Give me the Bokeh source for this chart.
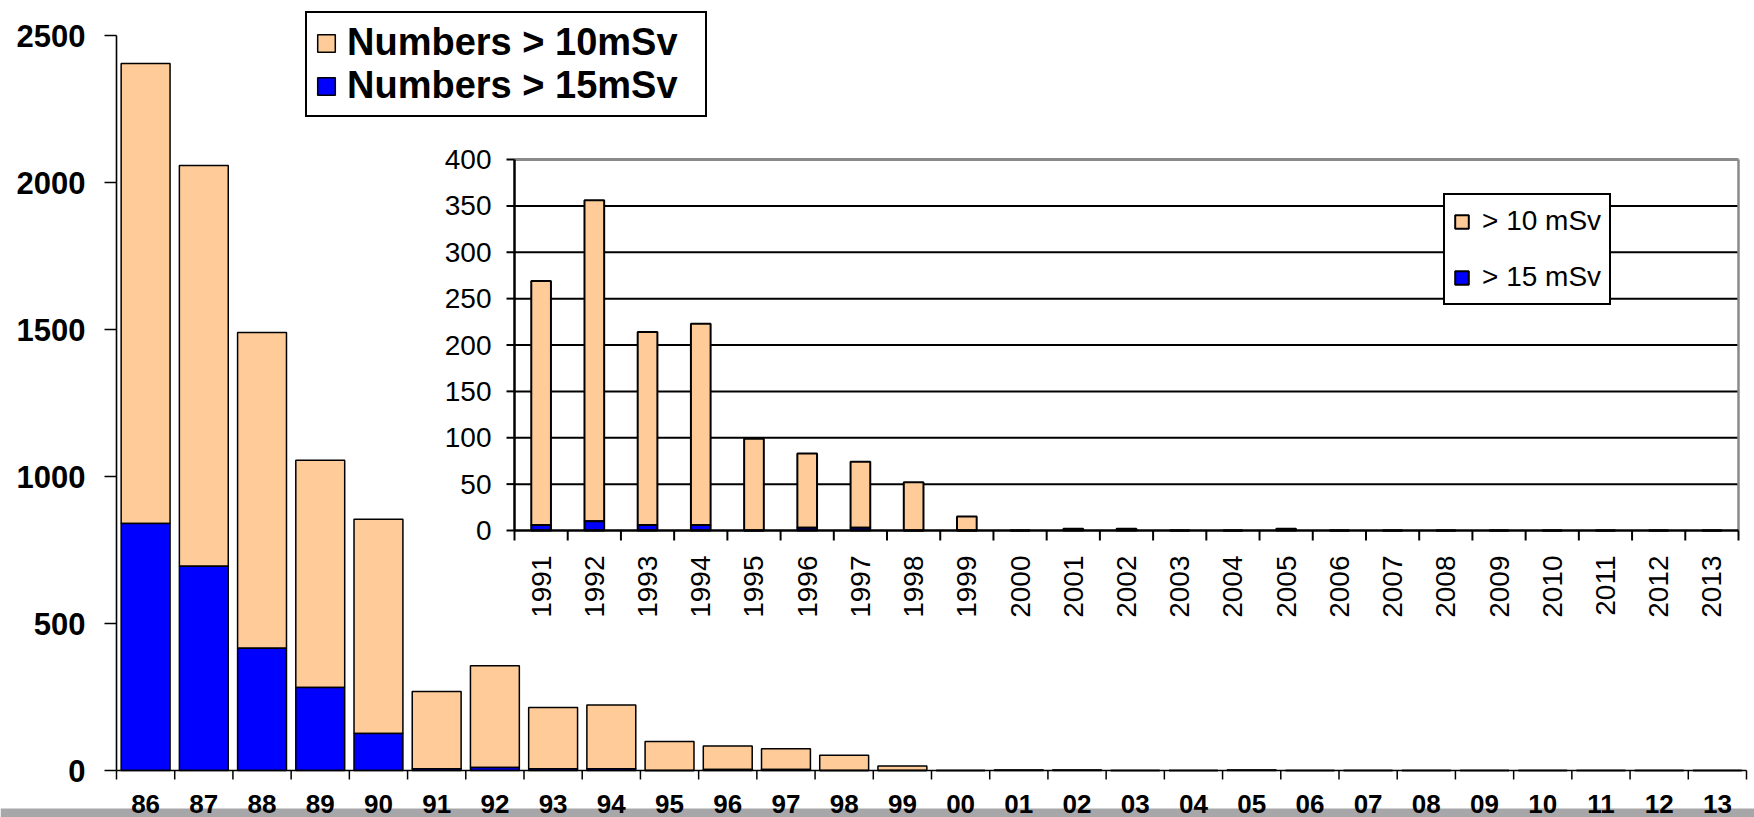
import math
from bokeh.plotting import figure
from bokeh.models import (Range1d, Legend, LegendItem, BoxAnnotation, ColumnDataSource)
from bokeh.core.properties import value
from bokeh.embed import file_html
from bokeh.resources import INLINE

# ---------------- data ----------------
year_labels = ["86", "87", "88", "89", "90", "91", "92", "93", "94", "95", "96", "97", "98", "99",
               "00", "01", "02", "03", "04", "05", "06", "07", "08", "09", "10", "11", "12", "13"]
over_10 = [2405, 2058, 1490, 1055, 855, 269, 356, 214, 223, 99, 83, 74, 52, 15,
           0, 2, 2, 0, 0, 2, 0, 0, 0, 0, 0, 0, 0, 0]
over_15 = [840, 695, 416, 282, 126, 6, 10, 6, 6, 0, 3, 3, 0, 0,
           0, 1, 1, 0, 0, 1, 0, 0, 0, 0, 0, 0, 0, 0]
main_yticks = [0, 500, 1000, 1500, 2000, 2500]

inset_years = ["1991", "1992", "1993", "1994", "1995", "1996", "1997", "1998", "1999", "2000",
               "2001", "2002", "2003", "2004", "2005", "2006", "2007", "2008", "2009", "2010",
               "2011", "2012", "2013"]
inset_over_10 = [269, 356, 214, 223, 99, 83, 74, 52, 15, 0, 2, 2, 0, 0, 2, 0, 0, 0, 0, 0, 0, 0, 0]
inset_over_15 = [6, 10, 6, 6, 0, 3, 3, 0, 0, 0, 1, 1, 0, 0, 1, 0, 0, 0, 0, 0, 0, 0, 0]
inset_yticks = [0, 50, 100, 150, 200, 250, 300, 350, 400]

main_legend_labels = ["Numbers > 10mSv", "Numbers > 15mSv"]
inset_legend_labels = ["> 10 mSv", "> 15 mSv"]

# ---------------- style / layout ----------------
PEACH = "#FFCC99"
BLUE = "#0000FF"
GRAYLINE = "#8A8A8A"
FONT = value("Liberation Sans")
W, H = 1754, 817

# main chart: canvas px of category 0 / end and of value 0 / top tick
MX_L, MX_R = 116, 1746
MY_Z, MY_T = 770, 35
n = len(year_labels)
ymax_m = main_yticks[-1]
ux = n / (MX_R - MX_L)
uy = ymax_m / (MY_Z - MY_T)

p = figure(width=W, height=H, output_backend="svg", toolbar_location=None,
           x_range=Range1d(-MX_L * ux, (W - MX_L) * ux),
           y_range=Range1d(-(H - MY_Z) * uy, MY_Z * uy),
           min_border=0, min_border_left=0, min_border_right=0,
           min_border_top=0, min_border_bottom=0,
           x_axis_type=None, y_axis_type=None)
p.outline_line_color = None
p.xgrid.visible = False
p.ygrid.visible = False
p.background_fill_color = "white"
p.border_fill_color = "white"

# gray band at the very bottom of the page
band = BoxAnnotation(left=0, right=W, top=808, bottom=H,
                     left_units="canvas", right_units="canvas",
                     top_units="canvas", bottom_units="canvas",
                     fill_color="#A7A7A9", fill_alpha=1, line_color=None, level="underlay")
p.add_layout(band)

# main bars
centers = [i + 0.5 for i in range(n)]
bounds = list(range(n + 1))
msrc = ColumnDataSource(dict(x=centers, t10=over_10, t15=over_15))
r10 = p.vbar(x="x", width=0.84, bottom="t15", top="t10", source=msrc,
             fill_color=PEACH, line_color="black", line_width=1.5)
r15 = p.vbar(x="x", width=0.84, bottom=0, top="t15", source=msrc,
             fill_color=BLUE, line_color="black", line_width=1.5)

# main axes
p.segment(x0=[0], x1=[0], y0=[0], y1=[ymax_m], line_color="black", line_width=1.6)
p.segment(x0=[0], x1=[n], y0=[0], y1=[0], line_color="black", line_width=1.6)
p.segment(x0=[0] * len(main_yticks), x1=[-12 * ux] * len(main_yticks),
          y0=main_yticks, y1=main_yticks, line_color="black", line_width=1.5)
p.segment(x0=bounds, x1=bounds, y0=[0] * len(bounds), y1=[-9 * uy] * len(bounds),
          line_color="black", line_width=1.5)
p.text(x=[-31 * ux] * len(main_yticks), y=main_yticks, text=[str(v) for v in main_yticks],
       text_align="right", text_baseline="middle", text_font=FONT, text_font_style="bold",
       text_font_size="31px", text_color="black")
p.text(x=centers, y=[-33 * uy] * n, text=year_labels,
       text_align="center", text_baseline="middle", text_font=FONT, text_font_style="bold",
       text_font_size="26px", text_color="black")

# ---------------- inset (extra ranges mapped onto a sub-region) ----------------
ni = len(inset_years)
IL, IR = 514, 1738      # canvas x of inset category 0 and end
IZ, IT = 530, 159       # canvas y of inset value 0 and top tick
ymax_i = inset_yticks[-1]
bx = ni / (IR - IL)
dy = ymax_i / (IZ - IT)
p.extra_x_ranges = {"ix": Range1d(-IL * bx, (W - IL) * bx)}
p.extra_y_ranges = {"iy": Range1d(-(H - IZ) * dy, IZ * dy)}
kw = dict(x_range_name="ix", y_range_name="iy")

grid_vals = inset_yticks[1:-1]
p.segment(x0=[0] * len(grid_vals), x1=[ni] * len(grid_vals), y0=grid_vals, y1=grid_vals,
          line_color="black", line_width=2, **kw)
p.segment(x0=[0], x1=[ni], y0=[ymax_i], y1=[ymax_i], line_color=GRAYLINE, line_width=3, **kw)
p.segment(x0=[ni], x1=[ni], y0=[0], y1=[ymax_i], line_color=GRAYLINE, line_width=2.5, **kw)

icenters = [i + 0.5 for i in range(ni)]
isrc = ColumnDataSource(dict(x=icenters, t10=inset_over_10, t15=inset_over_15))
ir10 = p.vbar(x="x", width=0.37, bottom="t15", top="t10", source=isrc,
              fill_color=PEACH, line_color="black", line_width=2, **kw)
ir15 = p.vbar(x="x", width=0.37, bottom=0, top="t15", source=isrc,
              fill_color=BLUE, line_color="black", line_width=2, **kw)

p.segment(x0=[0], x1=[0], y0=[0], y1=[ymax_i], line_color="black", line_width=2.5, **kw)
p.segment(x0=[0], x1=[ni], y0=[0], y1=[0], line_color="black", line_width=2.5, **kw)
p.segment(x0=[0] * len(inset_yticks), x1=[-8 * bx] * len(inset_yticks),
          y0=inset_yticks, y1=inset_yticks, line_color="black", line_width=2, **kw)
ibounds = list(range(ni + 1))
p.segment(x0=ibounds, x1=ibounds, y0=[0] * len(ibounds), y1=[-10 * dy] * len(ibounds),
          line_color="black", line_width=2, **kw)
p.text(x=[-23 * bx] * len(inset_yticks), y=inset_yticks, text=[str(v) for v in inset_yticks],
       text_align="right", text_baseline="middle", text_font=FONT,
       text_font_size="28px", text_color="black", **kw)
p.text(x=icenters, y=[-25 * dy] * ni, text=inset_years, angle=math.pi / 2,
       text_align="right", text_baseline="middle", text_font=FONT,
       text_font_size="28px", text_color="black", **kw)

# ---------------- legends ----------------
main_leg = Legend(items=[LegendItem(label=main_legend_labels[0], renderers=[r10]),
                         LegendItem(label=main_legend_labels[1], renderers=[r15])],
                  location=(305, H - 117), margin=0, padding=8, spacing=-2,
                  glyph_width=22, glyph_height=22, label_standoff=10, label_height=40,
                  label_width=350,
                  label_text_font="Liberation Sans", label_text_font_style="bold",
                  label_text_font_size="38px", label_text_color="black",
                  border_line_color="black", border_line_width=2.5, border_line_alpha=1,
                  background_fill_color="white", background_fill_alpha=1)
p.add_layout(main_leg, "center")

inset_leg = Legend(items=[LegendItem(label=inset_legend_labels[0], renderers=[ir10]),
                          LegendItem(label=inset_legend_labels[1], renderers=[ir15])],
                   location=(1443, H - 305), margin=0, padding=8, spacing=20,
                   glyph_width=17, glyph_height=17, label_standoff=12, label_height=36,
                   label_text_font="Liberation Sans", label_text_font_size="28px",
                   label_text_color="black",
                   border_line_color="black", border_line_width=2.5, border_line_alpha=1,
                   background_fill_color="white", background_fill_alpha=1)
p.add_layout(inset_leg, "center")

open("out.html", "w").write(file_html(p, INLINE))
